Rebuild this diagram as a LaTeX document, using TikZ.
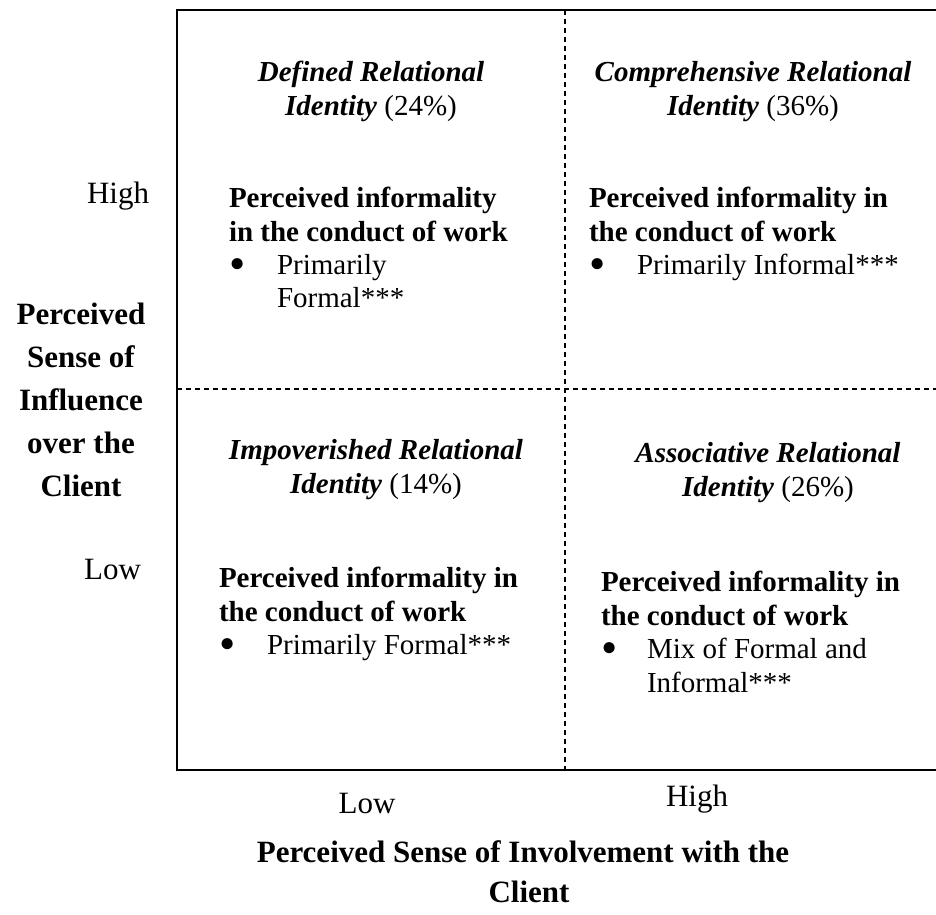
\documentclass[tikz,border=0pt]{standalone}
\usepackage{fontspec}
\setmainfont{Liberation Serif}
\newcommand{\bigbul}{\raisebox{-5.5pt}{\scalebox{1.6}{•}}}
\begin{document}
\begin{tikzpicture}[x=1pt,y=-1pt,
  every node/.style={inner sep=0pt, outer sep=0pt},
  body/.style={anchor=base west, font=\fontsize{29}{34}\selectfont},
  bhead/.style={anchor=base west, font=\fontsize{29}{34}\selectfont\bfseries},
  ttl/.style={anchor=base, font=\fontsize{29}{34}\selectfont},
  axlab/.style={font=\fontsize{31}{37}\selectfont},
  axttl/.style={anchor=base, font=\fontsize{31}{37}\selectfont\bfseries},
  frame/.style={line width=2pt},
  divider/.style={line width=1.3pt, dash pattern=on 5pt off 4pt}]
\useasboundingbox (0,0) rectangle (936,914);
% frame and dividers
\coordinate (TLc) at (177,10);
\coordinate (TRc) at (936,10);
\coordinate (BLc) at (177,770);
\coordinate (BRc) at (936,770);
\coordinate (vt) at (565,10);
\coordinate (vb) at (565,770);
\coordinate (hl) at (177,389);
\coordinate (hr) at (936,389);
\draw[frame] (TRc) -- (TLc) -- (BLc) -- (BRc);
\draw[divider] (vt) -- (vb);
\draw[divider] (hl) -- (hr);
% top left cell
\node[ttl] (tlA) at (371,81) {\textbf{\textit{Defined Relational}}};
\node[ttl] (tlB) at (371,115) {\textbf{\textit{Identity}} (24\%)};
\node[bhead] (tl1) at (229,207) {Perceived informality};
\node[bhead] (tl2) at (229,241) {in the conduct of work};
\node[body] (tlb) at (229,274) {\bigbul};
\node[body] (tl3) at (277,274) {Primarily};
\node[body] (tl4) at (277,307) {Formal***};
% top right cell
\node[ttl] (trA) at (753,81) {\textbf{\textit{Comprehensive Relational}}};
\node[ttl] (trB) at (753,115) {\textbf{\textit{Identity}} (36\%)};
\node[bhead] (tr1) at (589,207) {Perceived informality in};
\node[bhead] (tr2) at (589,241) {the conduct of work};
\node[body] (trb) at (589,274) {\bigbul};
\node[body] (tr3) at (637,274) {Primarily Informal***};
% bottom left cell
\node[ttl] (blA) at (376,459) {\textbf{\textit{Impoverished Relational}}};
\node[ttl] (blB) at (376,493) {\textbf{\textit{Identity}} (14\%)};
\node[bhead] (bl1) at (219,587) {Perceived informality in};
\node[bhead] (bl2) at (219,621) {the conduct of work};
\node[body] (blb) at (219,654) {\bigbul};
\node[body] (bl3) at (267,654) {Primarily Formal***};
% bottom right cell
\node[ttl] (brA) at (768,462) {\textbf{\textit{Associative Relational}}};
\node[ttl] (brB) at (768,496) {\textbf{\textit{Identity}} (26\%)};
\node[bhead] (br1) at (601,591) {Perceived informality in};
\node[bhead] (br2) at (601,625) {the conduct of work};
\node[body] (brb) at (601,658) {\bigbul};
\node[body] (br3) at (647,658) {Mix of Formal and};
\node[body] (br4) at (647,692) {Informal***};
% vertical axis
\node[axlab, anchor=base east] (yhigh) at (149,203) {High};
\node[axlab, anchor=base east] (ylow) at (141,579) {Low};
\node[axttl] (yt1) at (81,324) {Perceived};
\node[axttl] (yt2) at (81,367) {Sense of};
\node[axttl] (yt3) at (81,410) {Influence};
\node[axttl] (yt4) at (81,453) {over the};
\node[axttl] (yt5) at (81,496) {Client};
% horizontal axis
\node[axlab, anchor=base] (xlow) at (367,813) {Low};
\node[axlab, anchor=base] (xhigh) at (697,806) {High};
\node[axttl] (xt1) at (523,862) {Perceived Sense of Involvement with the};
\node[axttl] (xt2) at (529,902) {Client};
\end{tikzpicture}
\end{document}
